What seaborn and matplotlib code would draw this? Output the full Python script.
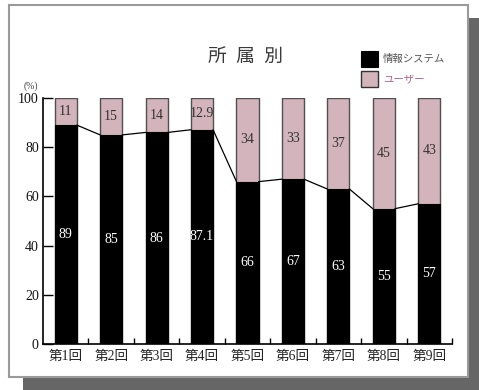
import matplotlib
matplotlib.use("Agg")
import matplotlib.pyplot as plt
from matplotlib.patches import Rectangle
from matplotlib.ticker import FixedLocator
import seaborn as sns
import pandas as pd

# Survey rounds and the share (%) of respondents by affiliation
rounds = ["第1回", "第2回", "第3回", "第4回", "第5回", "第6回", "第7回", "第8回", "第9回"]
it_dept = [89, 85, 86, 87.1, 66, 67, 63, 55, 57]
users = [11, 15, 14, 12.9, 34, 33, 37, 45, 43]
y_ticks = [0, 20, 40, 60, 80, 100]

sns.set_theme(style="white")
plt.rcParams["font.family"] = ["Liberation Serif", "Noto Sans CJK JP"]

PINK = "#d4b4bc"
W = 0.485

df = pd.DataFrame({"round": rounds, "it": it_dept, "user": users})
df["total"] = df["it"] + df["user"]

fig = plt.figure(figsize=(4.79, 3.90), dpi=100)
fig.patch.set_facecolor("white")

# drop shadow and framed panel
fig.patches.append(Rectangle((23 / 479, 0), 456 / 479, (390 - 18) / 390,
                             transform=fig.transFigure, facecolor="#666666",
                             edgecolor="none", zorder=0))
fig.patches.append(Rectangle((9 / 479, (390 - 377) / 390), 459 / 479, 372 / 390,
                             transform=fig.transFigure, facecolor="white",
                             edgecolor="#9a9a9a", linewidth=1.5, zorder=1))

ax = fig.add_axes([43 / 479, 46 / 390, 409 / 479, 246 / 390])
ax.set_zorder(5)
ax.set_facecolor("none")

sns.barplot(data=df, x="round", y="total", color=PINK, width=W,
            edgecolor="#505050", linewidth=1.0, saturation=1, ax=ax, zorder=2)
sns.barplot(data=df, x="round", y="it", color="black", width=W,
            edgecolor="black", linewidth=0.8, saturation=1, ax=ax, zorder=3)

# connector lines between tops of the black segments
for i in range(len(it_dept) - 1):
    ax.plot([i + W / 2, i + 1 - W / 2], [it_dept[i], it_dept[i + 1]],
            color="black", linewidth=0.9, zorder=4)

# value labels
for i, (a, b) in enumerate(zip(it_dept, users)):
    ax.text(i, a / 2, f"{a:g}", ha="center", va="center", color="white",
            fontsize=10, zorder=5)
    ax.text(i, a + b / 2, f"{b:g}", ha="center", va="center", color="#333333",
            fontsize=10, zorder=5)

ax.set_xlim(-0.5, len(rounds) - 0.5)
ax.set_ylim(0, 100)
ax.set_yticks(y_ticks)
ax.set_yticklabels([str(v) for v in y_ticks], fontsize=10)
ax.tick_params(axis="y", direction="in", length=7.5, width=1, color="black",
               left=True, pad=3, labelcolor="#111111")
ax.set_xticks(range(len(rounds)))
ax.set_xticklabels(rounds, fontsize=9.8, color="#222222")
ax.tick_params(axis="x", which="major", length=0, pad=4.5)
ax.xaxis.set_minor_locator(FixedLocator([i + 0.5 for i in range(len(rounds))]))
ax.tick_params(axis="x", which="minor", direction="in", length=4, width=1,
               color="black", bottom=True)
ax.set_xlabel("")
ax.set_ylabel("")
for s in ["top", "right"]:
    ax.spines[s].set_visible(False)
for s in ["left", "bottom"]:
    ax.spines[s].set_color("black")
    ax.spines[s].set_linewidth(1.2)

# unit label
fig.text(31 / 479, 1 - 86 / 390, "(%)", fontsize=7, color="#444444",
         ha="center", va="center", zorder=6)

# title
fig.text(246 / 479, 1 - 56 / 390, "所\u2002属\u2002別", fontsize=13.5,
         family=["Noto Sans CJK JP"], color="#3a3a3a", ha="center", va="center",
         zorder=6)

# legend
fig.patches.append(Rectangle((361 / 479, 1 - 67 / 390), 17 / 479, 16 / 390,
                             transform=fig.transFigure, facecolor="black",
                             edgecolor="black", linewidth=0.8, zorder=3))
fig.patches.append(Rectangle((361 / 479, 1 - 87 / 390), 17 / 479, 16 / 390,
                             transform=fig.transFigure, facecolor=PINK,
                             edgecolor="#333333", linewidth=1.0, zorder=3))
fig.text(383 / 479, 1 - 59 / 390, "情報システム", fontsize=7.5,
         family=["Noto Sans CJK JP"], color="#555555", ha="left", va="center",
         zorder=6)
fig.text(383 / 479, 1 - 79 / 390, "ユーザー", fontsize=7.5,
         family=["Noto Sans CJK JP"], color="#b0638f", ha="left", va="center",
         zorder=6)

fig.savefig("out.png", dpi=100, facecolor="white")
